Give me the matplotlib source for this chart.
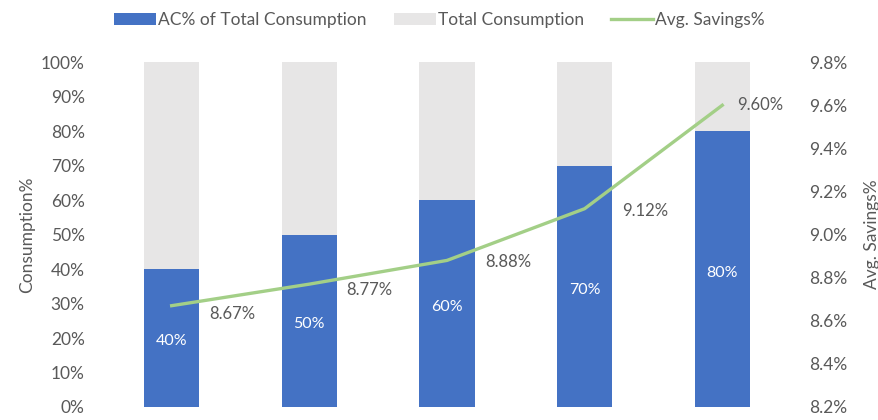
import matplotlib.pyplot as plt
from matplotlib.ticker import PercentFormatter, FuncFormatter

# data
groups = ['1', '2', '3', '4', '5']
ac_share = [40, 50, 60, 70, 80]  # AC% of total consumption
total = [100, 100, 100, 100, 100]  # total consumption
savings = [8.67, 8.77, 8.88, 9.12, 9.60]  # avg. savings %

plt.rcParams['font.family'] = ['Lato', 'DejaVu Sans']
txt = '#595959'
blue = '#4472C4'
grey = '#E7E6E6'
green = '#A3CF87'

fig = plt.figure(figsize=(8.79, 4.20), dpi=100)
ax = fig.add_axes([0.117, 0.031, 0.783, 0.821])
ax2 = ax.twinx()
ax.set_zorder(1)
ax2.set_zorder(2)
ax.patch.set_visible(False)

x = list(range(len(groups)))
rest = [t - a for t, a in zip(total, ac_share)]
b1 = ax.bar(x, ac_share, width=0.4, color=blue, label='AC% of Total Consumption')
b2 = ax.bar(x, rest, width=0.4, bottom=ac_share, color=grey, label='Total Consumption')
for xi, v in zip(x, ac_share):
    ax.text(xi, v / 2 - 1, f'{v}%', ha='center', va='center', color='white', fontsize=11.5)

ax.set_xlim(-0.5, 4.5)
ax.set_ylim(0, 100)
ax.set_yticks(range(0, 101, 10))
ax.yaxis.set_major_formatter(PercentFormatter(decimals=0))
ax.set_xticks([])
ax.tick_params(axis='y', length=0, pad=13, labelsize=12.5, labelcolor=txt)
ax.set_ylabel('Consumption%', color=txt, fontsize=12.5, labelpad=4)

line, = ax2.plot(x, savings, color=green, lw=2.4, label='Avg. Savings%')
ax2.set_ylim(8.2, 9.8)
ax2.set_yticks([8.2 + 0.2 * i for i in range(9)])
ax2.yaxis.set_major_formatter(FuncFormatter(lambda v, p: f'{v:.1f}%'))
ax2.tick_params(axis='y', length=0, pad=13, labelsize=12.5, labelcolor=txt)
ax2.set_ylabel('Avg. Savings%', color=txt, fontsize=12.5, labelpad=12)

# label offsets (pixels)
offs = [(38, -8), (37, -6), (38, -2), (38, -2), (15, 0)]
for xi, v, (dx, dy) in zip(x, savings, offs):
    ax2.annotate(f'{v:.2f}%', (xi, v), xytext=(dx, dy), textcoords='offset pixels',
                 ha='left', va='center', color=txt, fontsize=12)

for a in (ax, ax2):
    for s in a.spines.values():
        s.set_visible(False)

fig.legend(handles=[b1, b2, line], loc='center', bbox_to_anchor=(0.5, 0.953), ncol=3,
           frameon=False, fontsize=12.5, labelcolor=txt, handlelength=2.4,
           handletextpad=0.1, columnspacing=1.6)

fig.savefig('out.png', dpi=100)
